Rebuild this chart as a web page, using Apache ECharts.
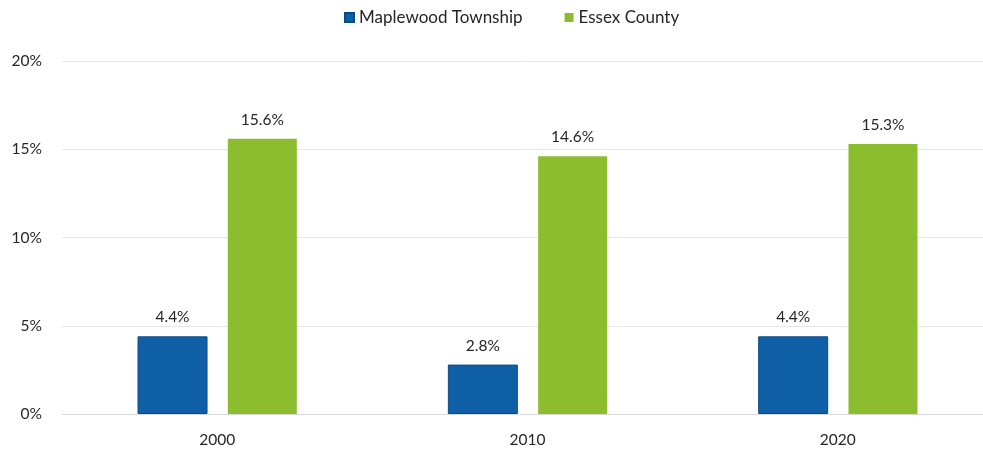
<!DOCTYPE html>
<html><head><meta charset="utf-8">
<script src="https://cdn.jsdelivr.net/npm/echarts@6/dist/echarts.min.js"></script>
<style>html,body{margin:0;padding:0;background:#fff;overflow:hidden;width:983px;height:453px}#c{width:1000px;height:453px}</style>
</head><body><div id="c"></div>
<script>
const categories = ['2000', '2010', '2020'];
const maplewood = [4.4, 2.8, 4.4];
const essex = [15.6, 14.6, 15.3];
const seriesNames = ['Maplewood Township', 'Essex County'];
const yTicks = [0, 5, 10, 15, 20];

const font = 'Lato, "Open Sans", sans-serif';
const chart = echarts.init(document.getElementById('c'));
const labelCfg = {show: true, position: 'top', distance: 11, color: '#262626', fontSize: 15.5, fontFamily: font, formatter: p => p.value.toFixed(1) + '%'};
chart.setOption({
  animation: false,
  legend: {top: 4, left: 512, itemWidth: 9, itemHeight: 9, itemGap: 42, icon: 'rect',
    textStyle: {fontSize: 17, color: '#262626', fontFamily: font}},
  grid: {left: 62, right: 7, top: 61, bottom: 39},
  xAxis: {type: 'category', data: categories,
    axisLine: {lineStyle: {color: '#d9d9d9'}}, axisTick: {show: false},
    axisLabel: {fontSize: 15.5, color: '#262626', fontFamily: font, margin: 18}},
  yAxis: {type: 'value', min: yTicks[0], max: yTicks[yTicks.length - 1], interval: 5,
    axisLine: {show: false}, axisTick: {show: false},
    splitLine: {lineStyle: {color: '#e6e6e6'}},
    axisLabel: {fontSize: 15.5, color: '#262626', fontFamily: font, margin: 20, formatter: v => v + '%'}},
  series: [
    {name: seriesNames[0], type: 'bar', data: maplewood, barWidth: 70, barGap: '29%',
      itemStyle: {color: '#0f5fa6', borderColor: '#0a4b86', borderWidth: 1}, label: labelCfg},
    {name: seriesNames[1], type: 'bar', data: essex, barWidth: 69,
      itemStyle: {color: '#8cbd2f'}, label: labelCfg}
  ]
});
// center the legend on x=512 of the visible page
const lg = chart.getModel().getComponent('legend');
const view = chart.getViewOfComponentModel(lg);
const w = view.group.getBoundingRect().width;
chart.setOption({legend: {left: Math.round(512 - w / 2)}});
</script></body></html>
